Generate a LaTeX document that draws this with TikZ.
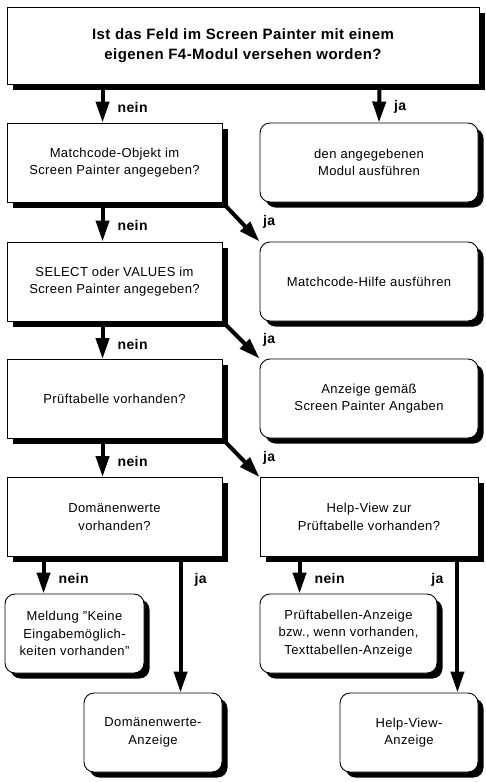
\documentclass[tikz,border=0pt]{standalone}
\usepackage{fontspec}
\setmainfont{Liberation Sans}[LetterSpace=3]
\usetikzlibrary{arrows.meta,shadows}
\tikzset{
  box/.style={draw=black, line width=0.9pt, fill=white, minimum height=79pt, inner sep=0pt, align=center,
    font=\fontsize{13}{17.5}\selectfont,
    drop shadow={shadow xshift=5.5pt, shadow yshift=-5.5pt, fill=black, opacity=1}},
  rbox/.style={box, rounded corners=10pt},
  topbox/.style={box, minimum height=77pt, font=\fontsize{15}{20}\selectfont\bfseries},
  arr/.style={line width=4pt, -{Triangle[length=21pt,width=13pt]}},
  lbl/.style={font=\fontsize{14}{14}\selectfont\bfseries, inner sep=0pt},
}
\begin{document}
\begin{tikzpicture}[x=1pt,y=-1pt]
\useasboundingbox (0,0) rectangle (486,782);
\fill[white] (0,0) rectangle (486,782);

\node[topbox, minimum width=472pt] (top) at (243,45.5) {Ist das Feld im Screen Painter mit einem\\eigenen F4-Modul versehen worden?};
\node[box, minimum width=215pt] (q1) at (114.5,162.5) {Matchcode-Objekt im\\Screen Painter angegeben?};
\node[rbox, minimum width=218pt] (r1) at (369,162.5) {den angegebenen\\Modul ausführen};
\node[box, minimum width=215pt] (q2) at (114.5,281.5) {SELECT oder VALUES im\\Screen Painter angegeben?};
\node[rbox, minimum width=218pt] (r2) at (369,281.5) {Matchcode-Hilfe ausführen};
\node[box, minimum width=215pt] (q3) at (114.5,399) {Prüftabelle vorhanden?};
\node[rbox, minimum width=218pt] (r3) at (369,398.5) {Anzeige gemäß\\Screen Painter Angaben};
\node[box, minimum width=215pt] (q4) at (114.5,517) {Domänenwerte\\vorhanden?};
\node[box, minimum width=218pt] (r4) at (369,517) {Help-View zur\\Prüftabelle vorhanden?};
\node[rbox, minimum width=139pt] (m) at (74.5,633.5) {Meldung "Keine\\Eingabemöglich-\\keiten vorhanden"};
\node[rbox, minimum width=138pt] (dA) at (153,732.5) {Domänenwerte-\\Anzeige};
\node[rbox, minimum width=177pt] (pA) at (348.5,633.5) {Prüftabellen-Anzeige\\bzw., wenn vorhanden,\\Texttabellen-Anzeige};
\node[rbox, minimum width=138pt] (hA) at (409,732.5) {Help-View-\\Anzeige};

\draw[arr] ([xshift=96pt]top.south west) -- node[lbl, pos=0.6, anchor=west, xshift=13pt]{nein} ([xshift=96pt]q1.north west);
\draw[arr] ([xshift=-100pt]top.south east) -- node[lbl, pos=0.6, anchor=west, xshift=13pt]{ja} ([xshift=10pt]r1.north);

\draw[arr] ([xshift=96pt]q1.south west) -- node[lbl, pos=0.6, anchor=west, xshift=13pt]{nein} ([xshift=96pt]q2.north west);
\draw[arr] ([xshift=96pt]q2.south west) -- node[lbl, pos=0.6, anchor=west, xshift=13pt]{nein} ([xshift=96pt]q3.north west);
\draw[arr] ([xshift=96pt]q3.south west) -- node[lbl, pos=0.6, anchor=west, xshift=13pt]{nein} ([xshift=96pt]q4.north west);

\draw[arr] (q1.south east) -- node[lbl, pos=0.5, anchor=west, xshift=20pt]{ja} (r2.north west);
\draw[arr] (q2.south east) -- node[lbl, pos=0.5, anchor=west, xshift=20pt]{ja} (r3.north west);
\draw[arr] (q3.south east) -- node[lbl, pos=0.5, anchor=west, xshift=20pt]{ja} (r4.north west);

\draw[arr] ([xshift=37pt]q4.south west) -- node[lbl, pos=0.6, anchor=west, xshift=13pt]{nein} ([xshift=39pt]m.north west);
\draw[arr] ([xshift=174pt]q4.south west) -- node[lbl, pos=0.17, anchor=west, xshift=12pt]{ja} ([xshift=97pt]dA.north west);
\draw[arr] ([xshift=40pt]r4.south west) -- node[lbl, pos=0.6, anchor=west, xshift=13pt]{nein} ([xshift=40pt]pA.north west);
\draw[arr] ([xshift=-21pt]r4.south east) -- node[lbl, pos=0.17, anchor=east, xshift=-12pt]{ja} ([xshift=-21pt]hA.north east);
\end{tikzpicture}
\end{document}
